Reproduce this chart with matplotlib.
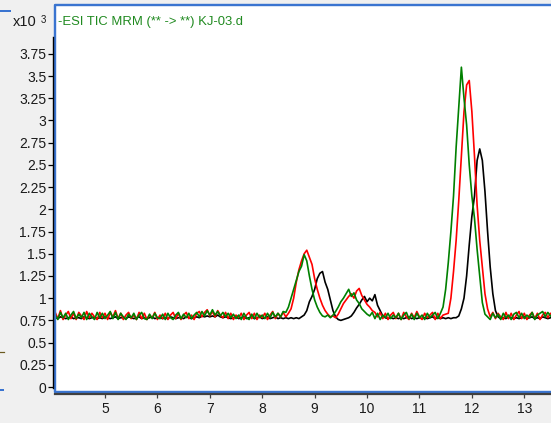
import numpy as np
import matplotlib.pyplot as plt
from matplotlib.lines import Line2D

plt.rcParams['font.family'] = ['Liberation Sans', 'DejaVu Sans']

# TIC traces sampled every 0.05 min starting at 4.05 min (intensity x10^3)
t_start = 4.05
t_step = 0.05

tic_green = [
    0.81, 0.76, 0.84, 0.78, 0.83, 0.76, 0.81, 0.85, 0.77, 0.82,
    0.78, 0.84, 0.76, 0.83, 0.79, 0.76, 0.84, 0.78, 0.83, 0.77,
    0.81, 0.85, 0.77, 0.84, 0.76, 0.83, 0.79, 0.76, 0.82, 0.78,
    0.83, 0.76, 0.81, 0.84, 0.77, 0.76, 0.82, 0.77, 0.83, 0.78,
    0.77, 0.82, 0.76, 0.83, 0.78, 0.76, 0.81, 0.84, 0.77, 0.82,
    0.78, 0.83, 0.77, 0.81, 0.84, 0.79, 0.85, 0.80, 0.86, 0.81,
    0.87, 0.81, 0.85, 0.80, 0.84, 0.79, 0.83, 0.78, 0.82, 0.77,
    0.81, 0.76, 0.83, 0.78, 0.76, 0.82, 0.77, 0.83, 0.78, 0.81,
    0.77, 0.83, 0.78, 0.84, 0.79, 0.83, 0.79, 0.85, 0.84, 0.90,
    1.00, 1.10, 1.20, 1.30, 1.36, 1.49, 1.42, 1.25, 1.10, 0.98,
    0.90, 0.84, 0.80, 0.79, 0.81, 0.78, 0.81, 0.85, 0.90, 0.96,
    1.00, 1.05, 1.10, 1.02, 1.06, 0.98, 0.94, 0.88, 0.85, 0.82,
    0.80, 0.84, 0.77, 0.83, 0.76, 0.81, 0.78, 0.83, 0.77, 0.81,
    0.78, 0.83, 0.76, 0.81, 0.84, 0.77, 0.82, 0.76, 0.83, 0.78,
    0.81, 0.76, 0.83, 0.78, 0.81, 0.84, 0.77, 0.83, 0.90, 1.10,
    1.40, 1.75, 2.15, 2.70, 3.15, 3.60, 3.25, 2.95, 2.50, 2.15,
    1.90, 1.55, 1.25, 0.95, 0.82, 0.79, 0.76, 0.83, 0.78, 0.82,
    0.76, 0.83, 0.78, 0.81, 0.76, 0.82, 0.84, 0.78, 0.83, 0.77,
    0.81, 0.78, 0.84, 0.76, 0.81, 0.83, 0.85, 0.79, 0.84, 0.80,
    0.78,
]

tic_red = [
    0.84, 0.77, 0.86, 0.76, 0.81, 0.85, 0.77, 0.83, 0.76, 0.84,
    0.80, 0.76, 0.85, 0.78, 0.83, 0.79, 0.76, 0.84, 0.78, 0.83,
    0.76, 0.84, 0.79, 0.86, 0.77, 0.83, 0.76, 0.81, 0.84, 0.77,
    0.81, 0.76, 0.84, 0.77, 0.83, 0.76, 0.81, 0.78, 0.84, 0.76,
    0.81, 0.77, 0.83, 0.76, 0.81, 0.84, 0.77, 0.83, 0.76, 0.81,
    0.84, 0.77, 0.81, 0.76, 0.83, 0.85, 0.79, 0.84, 0.87, 0.80,
    0.85, 0.79, 0.86, 0.81, 0.78, 0.84, 0.77, 0.83, 0.76, 0.81,
    0.78, 0.83, 0.76, 0.81, 0.84, 0.77, 0.83, 0.76, 0.81, 0.78,
    0.83, 0.76, 0.81, 0.85, 0.77, 0.83, 0.79, 0.84, 0.79, 0.83,
    0.88, 1.00, 1.18, 1.32, 1.42, 1.50, 1.54, 1.46, 1.38, 1.22,
    1.10, 1.00, 0.92, 0.86, 0.82, 0.79, 0.80, 0.78, 0.82, 0.88,
    0.94, 0.98, 1.02, 1.05, 1.00, 1.08, 1.11, 1.03, 0.98, 0.93,
    0.90, 0.86, 0.84, 0.79, 0.84, 0.77, 0.83, 0.76, 0.81, 0.84,
    0.77, 0.83, 0.76, 0.84, 0.79, 0.76, 0.83, 0.78, 0.85, 0.79,
    0.76, 0.83, 0.78, 0.81, 0.84, 0.76, 0.83, 0.77, 0.81, 0.82,
    0.83, 1.00, 1.30, 1.65, 2.10, 2.60, 3.10, 3.40, 3.45, 3.10,
    2.60, 2.05, 1.65, 1.35, 1.05, 0.88, 0.79, 0.84, 0.77, 0.83,
    0.79, 0.76, 0.84, 0.77, 0.83, 0.76, 0.81, 0.85, 0.77, 0.83,
    0.76, 0.81, 0.84, 0.77, 0.83, 0.76, 0.81, 0.84, 0.78, 0.83,
    0.80,
]

tic_black = [
    0.78, 0.77, 0.79, 0.78, 0.77, 0.78, 0.79, 0.77, 0.78, 0.78,
    0.77, 0.79, 0.78, 0.77, 0.78, 0.79, 0.77, 0.78, 0.77, 0.79,
    0.78, 0.77, 0.78, 0.79, 0.77, 0.78, 0.78, 0.77, 0.79, 0.78,
    0.77, 0.78, 0.79, 0.77, 0.78, 0.77, 0.78, 0.79, 0.77, 0.78,
    0.78, 0.77, 0.78, 0.77, 0.79, 0.78, 0.77, 0.78, 0.78, 0.77,
    0.79, 0.78, 0.77, 0.78, 0.79, 0.78, 0.80, 0.79, 0.80, 0.79,
    0.80, 0.79, 0.81, 0.79, 0.78, 0.79, 0.78, 0.77, 0.78, 0.79,
    0.77, 0.78, 0.79, 0.77, 0.78, 0.79, 0.77, 0.78, 0.79, 0.77,
    0.78, 0.79, 0.77, 0.78, 0.79, 0.77, 0.78, 0.77, 0.78, 0.77,
    0.78, 0.77, 0.78, 0.77, 0.79, 0.81, 0.86, 0.96, 1.02, 1.10,
    1.22, 1.28, 1.30, 1.18, 1.10, 0.98, 0.86, 0.79, 0.76, 0.75,
    0.76, 0.77, 0.78, 0.80, 0.84, 0.89, 0.93, 0.98, 1.02, 0.96,
    1.00, 0.97, 1.04, 0.92, 0.86, 0.80, 0.78, 0.77, 0.78, 0.77,
    0.78, 0.77, 0.78, 0.77, 0.78, 0.79, 0.77, 0.78, 0.77, 0.78,
    0.77, 0.78, 0.77, 0.78, 0.79, 0.77, 0.78, 0.77, 0.78, 0.77,
    0.78, 0.77, 0.78, 0.78, 0.80, 0.88, 1.00, 1.25, 1.60, 1.92,
    2.15, 2.55, 2.68, 2.55, 2.20, 1.75, 1.35, 1.05, 0.86, 0.79,
    0.77, 0.78, 0.77, 0.79, 0.78, 0.77, 0.78, 0.77, 0.78, 0.79,
    0.77, 0.78, 0.79, 0.77, 0.78, 0.77, 0.79, 0.78, 0.77, 0.78,
    0.78,
]

y_ticks = [0, 0.25, 0.5, 0.75, 1, 1.25, 1.5, 1.75, 2, 2.25, 2.5, 2.75,
           3, 3.25, 3.5, 3.75]
x_ticks = [5, 6, 7, 8, 9, 10, 11, 12, 13]
title = "-ESI TIC MRM (** -> **) KJ-03.d"

time = t_start + t_step * np.arange(len(tic_green))

W, H = 551, 423
px = 0.72  # one pixel in points at 100 dpi

fig = plt.figure(figsize=(W / 100, H / 100), dpi=100, facecolor='#f0f0f0')
ax = fig.add_axes([55 / W, 31 / H, 496 / W, 387 / H])
ax.set_facecolor('white')

ax.plot(time, tic_black, color='black', lw=1.2)
ax.plot(time, tic_red, color='#ff0000', lw=1.2)
ax.plot(time, tic_green, color='#008000', lw=1.2)

ax.set_xlim(4.046, 13.51)
ax.set_ylim(-0.056, 4.30)

# black axis lines sit just outside the blue frame
ax.spines['top'].set_visible(False)
ax.spines['right'].set_visible(False)
ax.spines['left'].set_position(('outward', 2 * px))
ax.spines['left'].set_bounds(-0.01, 3.94)
ax.spines['left'].set_color('black')
ax.spines['left'].set_linewidth(1.0)
ax.spines['bottom'].set_position(('outward', 2 * px))
ax.spines['bottom'].set_color('#404040')
ax.spines['bottom'].set_linewidth(1.6)

ax.set_yticks(y_ticks)
ax.set_yticklabels(['{:g}'.format(v) for v in y_ticks])
ax.set_xticks(x_ticks)
ax.set_xticklabels([str(v) for v in x_ticks])
ax.tick_params(axis='y', direction='out', length=5 * px, width=0.9,
               color='black', pad=1.2, labelsize=10, labelcolor='#1a1a1a')
ax.tick_params(axis='x', direction='out', length=4 * px, width=0.9,
               color='#404040', pad=3, labelsize=10, labelcolor='#1a1a1a')

# blue window frame
frame = Line2D([1, 0, 0, 1], [1, 1, 0, 0], transform=ax.transAxes,
               color='#3a74d0', lw=2.4 * px, clip_on=False)
ax.add_artist(frame)

fig.text(58 / W, 1 - 22 / H, title, color='#208a20', fontsize=9.4,
         ha='left', va='center')
fig.text(13 / W, 1 - 22.5 / H, 'x10', color='#1a1a1a', fontsize=10.5,
         ha='left', va='center')
fig.text(40.5 / W, 1 - 20 / H, '3', color='#1a1a1a', fontsize=7,
         ha='left', va='center')

# edges of the neighbouring panels
fig.add_artist(Line2D([0, 10 / W], [1 - 11 / H, 1 - 11 / H], color='#3a74d0', lw=2 * px))
fig.add_artist(Line2D([0, 4 / W], [1 - 352 / H, 1 - 352 / H], color='#6a5a20', lw=1.2 * px))
fig.add_artist(Line2D([0, 3 / W], [1 - 390 / H, 1 - 390 / H], color='#3a74d0', lw=2 * px))

fig.savefig('out.png', dpi=100, facecolor=fig.get_facecolor())
